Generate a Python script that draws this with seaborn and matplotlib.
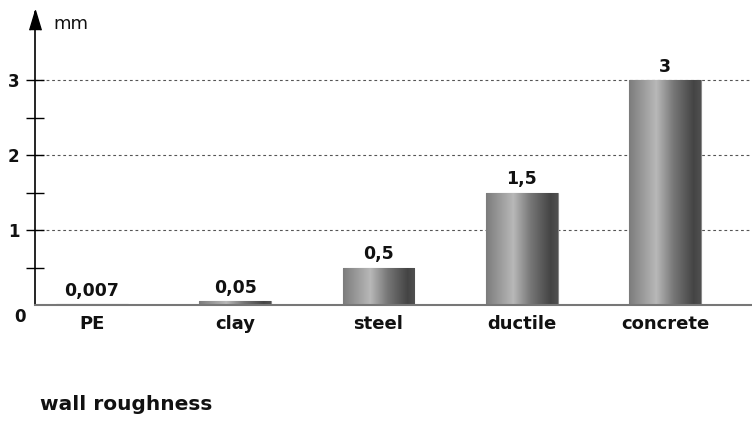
import matplotlib
matplotlib.use("Agg")
import matplotlib.pyplot as plt
from matplotlib.colors import LinearSegmentedColormap
from matplotlib.ticker import FixedLocator
from matplotlib.transforms import ScaledTranslation
import numpy as np
import pandas as pd
import seaborn as sns

# === Data ===
materials = ["PE", "clay", "steel", "ductile", "concrete"]
roughness = [0.007, 0.05, 0.5, 1.5, 3]
value_labels = ["0,007", "0,05", "0,5", "1,5", "3"]
y_ticks = [0, 1, 2, 3]
y_minor = [0.5, 1.5, 2.5]

df = pd.DataFrame({"material": materials, "roughness": roughness})

# === Style ===
sns.set_style("white")
plt.rcParams["font.family"] = ["DejaVu Sans"]

fig = plt.figure(figsize=(7.52, 4.36), dpi=100)
ax = fig.add_axes([35 / 752, 1 - 305 / 436, 717 / 752, 293 / 436])

sns.barplot(data=df, x="material", y="roughness", color="#999999",
            width=0.5, edgecolor="#8a8a8a", linewidth=0.8, ax=ax)

# metallic gradient on each bar, clipped to the bar shape
shade = LinearSegmentedColormap.from_list(
    "metal", [(0, "#7c7c7c"), (0.38, "#b8b8b8"), (0.62, "#777777"),
              (0.9, "#444444"), (1, "#505050")])
grad = np.linspace(0, 1, 256).reshape(1, -1)
for p in ax.patches:
    x0, y0 = p.get_x(), p.get_y()
    w, h = p.get_width(), p.get_height()
    im = ax.imshow(grad, cmap=shade, aspect="auto",
                   extent=[x0, x0 + w, y0, y0 + h], zorder=p.get_zorder() + 0.1)
    im.set_clip_path(p)
ax.set_xlim(-0.398, 4.607)
ax.set_ylim(0, 3.907)

ax.bar_label(ax.containers[0], labels=value_labels, padding=3,
             fontsize=12.5, fontweight="bold", color="#111111")

# grid
for v in y_ticks[1:]:
    ax.axhline(v, color="#555555", linestyle=(0, (2.5, 2.5)), linewidth=0.8, zorder=0)

# axes
ax.spines["top"].set_visible(False)
ax.spines["right"].set_visible(False)
ax.spines["left"].set_color("black")
ax.spines["left"].set_linewidth(1.2)
ax.spines["bottom"].set_color("#777777")
ax.spines["bottom"].set_linewidth(1.5)

ax.set_yticks(y_ticks)
ax.set_yticklabels([str(v) for v in y_ticks])
ax.yaxis.set_minor_locator(FixedLocator(y_minor))
ax.tick_params(axis="y", which="both", direction="inout", length=13,
               width=1, color="black", left=True, pad=4.5, labelsize=12)
ax.tick_params(axis="x", length=0, pad=7, labelsize=13)
ax.get_yticklines()[0].set_visible(False)
lbl0 = ax.get_yticklabels()[0]
lbl0.set_transform(lbl0.get_transform() + ScaledTranslation(4 / 72, -7 / 72, fig.dpi_scale_trans))
for t in ax.get_xticklabels() + ax.get_yticklabels():
    t.set_fontweight("bold")
    t.set_color("#111111")

ax.set_xlabel("")
ax.set_ylabel("")

# arrow head at top of y axis
ax.plot(0, (305 - 20) / 293, marker=[(-0.6, -1), (0, 1), (0.6, -1)],
        markersize=14, color="black", transform=ax.transAxes, clip_on=False)
ax.text(0.025, 0.959, "mm", transform=ax.transAxes, fontsize=13,
        va="center", ha="left", color="#111111")

fig.text(40 / 752, 1 - 404 / 436, "wall roughness", fontsize=14.5,
         fontweight="bold", va="center", ha="left", color="#111111")

fig.savefig("out.png", dpi=100)
